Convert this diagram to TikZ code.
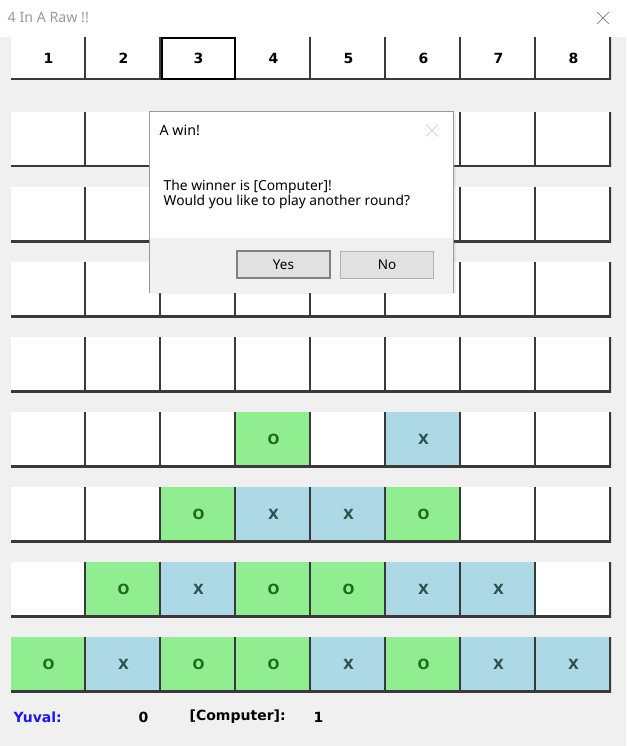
\documentclass[tikz,border=0pt]{standalone}
\usepackage{fontspec}
\setmainfont{Noto Sans}
\newfontfamily\cellfont{DejaVu Sans}
\usetikzlibrary{positioning,shadows}

\definecolor{wingray}{HTML}{F0F0F0}
\definecolor{edgegray}{HTML}{3A3A3A}
\definecolor{ogreen}{HTML}{90EE90}
\definecolor{otext}{HTML}{1F6A1F}
\definecolor{xblue}{HTML}{ADD8E6}
\definecolor{xtext}{HTML}{2F4F4F}
\definecolor{btngray}{HTML}{E1E1E1}
\definecolor{titlegray}{HTML}{9A9A9A}
\definecolor{nameblue}{HTML}{1818F5}

\def\marke{}
\def\marko{O}
\def\markx{X}

\begin{document}
\begin{tikzpicture}[x=1pt,y=-1pt,
    cell/.style={minimum width=75pt,minimum height=55pt,inner sep=0pt,outer sep=0pt,
                 fill=white,font=\cellfont\bfseries\fontsize{14}{14}\selectfont,
                 path picture={\draw[edgegray,line width=4pt]
                   (path picture bounding box.north east) --
                   (path picture bounding box.south east) --
                   (path picture bounding box.south west);}},
    celle/.style={cell},
    cello/.style={cell,fill=ogreen,text=otext},
    cellx/.style={cell,fill=xblue,text=xtext},
    headcell/.style={cell,minimum height=43pt},
    score/.style={font=\cellfont\bfseries\fontsize{14}{14}\selectfont,inner sep=0pt},
    dlgbtn/.style={fill=btngray,minimum width=93pt,minimum height=27pt,inner sep=0pt,
                   font=\fontsize{13.5}{13.5}\selectfont}]
  % window
  \useasboundingbox (0,0) rectangle (626,746);
  \fill[white] (0,0) rectangle (626,37);
  \fill[wingray] (0,37) rectangle (626,746);
  \node[anchor=west,inner sep=0pt,text=titlegray,font=\fontsize{14.2}{14.2}\selectfont]
    (title) at (7.5,18) {4 In A Raw !!};
  \coordinate (close) at (603,18);
  \draw[gray!80!black,line width=0.6pt] ([xshift=-6pt,yshift=6pt]close) -- ([xshift=6pt,yshift=-6pt]close)
        ([xshift=-6pt,yshift=-6pt]close) -- ([xshift=6pt,yshift=6pt]close);

  % column buttons
  \foreach \c in {1,...,8}
    \node[headcell] (h\c) at ({48.5+75*(\c-1)},58.5) {\c};
  \draw[black,line width=2pt] ([xshift=1pt,yshift=-1pt]h3.north west) rectangle ([xshift=-1pt,yshift=1pt]h3.south east);

  % board
  \foreach \row [count=\r] in {{e,e,e,e,e,e,e,e},{e,e,e,e,e,e,e,e},{e,e,e,e,e,e,e,e},{e,e,e,e,e,e,e,e},
                               {e,e,e,o,e,x,e,e},{e,e,o,x,x,o,e,e},{e,o,x,o,o,x,x,e},{o,x,o,o,x,o,x,x}}
    \foreach \s [count=\c] in \row
      \node[cell\s] (b\r-\c) at ({48.5+75*(\c-1)},{139.5+75*(\r-1)}) {\csname mark\s\endcsname};

  % dialog
  \node[fill=white,draw=gray!80,minimum width=304pt,minimum height=181pt,inner sep=0pt,
        drop shadow={opacity=0.12,shadow xshift=2pt,shadow yshift=-2pt}] (dlg) at (301.5,201.5) {};
  \fill[wingray] ([xshift=0.5pt,yshift=-0.5pt]dlg.south west) rectangle ([xshift=-0.5pt]dlg.east |- 0,238);
  \node[anchor=west,inner sep=0pt,font=\fontsize{14.2}{14.2}\selectfont] (dlgtitle) at (159.5,130) {A win!};
  \coordinate (dlgclose) at (432,130.5);
  \draw[gray!50,line width=0.6pt] ([xshift=-6pt,yshift=6pt]dlgclose) -- ([xshift=6pt,yshift=-6pt]dlgclose)
        ([xshift=-6pt,yshift=-6pt]dlgclose) -- ([xshift=6pt,yshift=6pt]dlgclose);
  \node[anchor=west,inner sep=0pt,align=left,font=\fontsize{13.8}{15.5}\selectfont] (msg) at (163.5,194.5)
    {The winner is [Computer]!\\Would you like to play another round?};
  \node[dlgbtn,draw=gray,line width=1.6pt] (yes) at (283.5,264.5) {Yes};
  \node[dlgbtn,draw=gray!60] (no) at (387,264.5) {No};

  % scores
  \node[score,anchor=west,text=nameblue] (player) at (13.5,717) {Yuval:};
  \node[score] (pscore) at (143.5,717) {0};
  \node[score,anchor=west] (computer) at (189.5,717) {[Computer]:};
  \node[score] (cscore) at (318.5,717) {1};
\end{tikzpicture}
\end{document}
